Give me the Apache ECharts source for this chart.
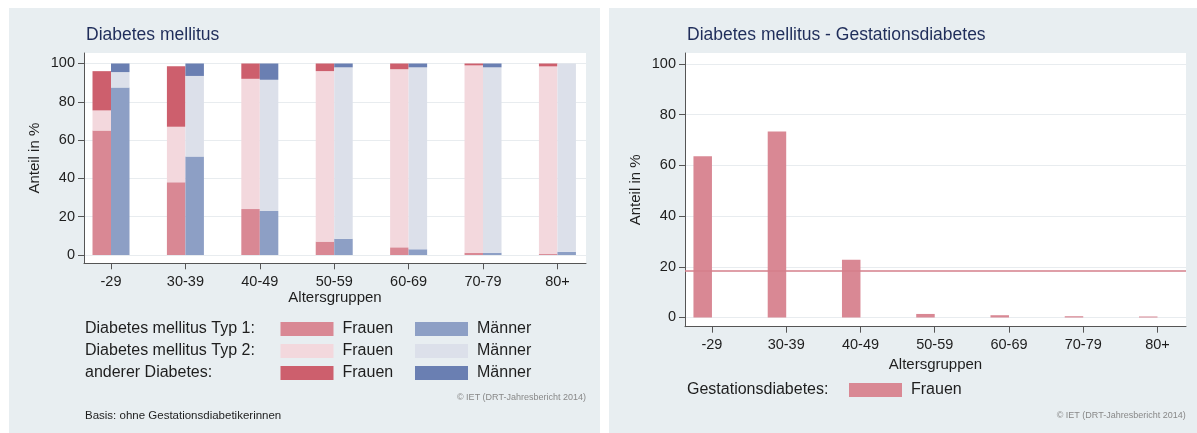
<!DOCTYPE html>
<html>
<head>
<meta charset="utf-8">
<script src="https://cdn.jsdelivr.net/npm/echarts@6/dist/echarts.min.js"></script>
<style>
html, body { margin: 0; padding: 0; background: #fff; }
#wrap { position: relative; width: 1197px; height: 433px; }
.panel { position: absolute; background: #e8eef1; }
#main { position: absolute; left: 0; top: 0; width: 1197px; height: 433px; }
</style>
</head>
<body>
<div id="wrap">
  <div class="panel" style="left:9px;top:8px;width:591px;height:425px"></div>
  <div class="panel" style="left:609px;top:8px;width:588px;height:425px"></div>
  <div id="main"></div>
</div>
<script>
// age groups
var categories = ['-29', '30-39', '40-49', '50-59', '60-69', '70-79', '80+'];
var yTicks = [0, 20, 40, 60, 80, 100];

// left chart: share in % (stacked per sex)
var typ1Frauen = [65, 38, 24, 7, 4, 1.2, 0.5];
var typ2Frauen = [10.5, 29, 68, 89, 93, 97.8, 98];
var andererFrauen = [20.5, 31.5, 8, 4, 3, 1, 1.5];
var typ1Maenner = [87.5, 51.5, 23, 8.5, 3, 1.2, 1.7];
var typ2Maenner = [8, 42, 68.5, 89.5, 95, 96.8, 98.3];
var andererMaenner = [4.5, 6.5, 8.5, 2, 2, 2, 0];

// right chart
var gestFrauen = [63.6, 73.4, 22.8, 1.4, 0.9, 0.5, 0.4];
var gestMittel = 18.5;

var FONT = '"Liberation Sans", Arial, sans-serif';
var TXT = '#1e1e1e';
var catIdx = categories.map(function (c, i) { return i; });

function xAxisFor(g) {
  return {
    type: 'value', gridIndex: g, min: -0.363, max: 6.384,
    name: 'Altersgruppen', nameLocation: 'middle', nameGap: 27,
    nameTextStyle: { fontFamily: FONT, fontSize: 15, color: TXT },
    axisLine: { show: true, onZero: false, lineStyle: { color: '#555', width: 1 } },
    axisTick: { show: true, length: 6, customValues: catIdx, lineStyle: { color: '#555' } },
    axisLabel: {
      customValues: catIdx, margin: 11, fontFamily: FONT, fontSize: 14.5, color: TXT,
      formatter: function (v) { return categories[v]; }
    },
    splitLine: { show: false }
  };
}

function yAxisFor(g, min, max) {
  return {
    type: 'value', gridIndex: g, min: min, max: max,
    name: 'Anteil in %', nameLocation: 'middle', nameGap: 42, nameRotate: 90,
    nameTextStyle: { fontFamily: FONT, fontSize: 15, color: TXT },
    axisLine: { show: true, onZero: false, lineStyle: { color: '#555', width: 1 } },
    axisTick: { show: true, length: 6, customValues: yTicks, lineStyle: { color: '#555' } },
    axisLabel: { customValues: yTicks, margin: 9, fontFamily: FONT, fontSize: 14.5, color: TXT },
    splitLine: { show: true, lineStyle: { color: '#e8ecef', width: 1 } }
  };
}

// value first, group index second, so the stack runs on the value dimension
function bars(name, vals, stack, color, g) {
  return {
    type: 'bar', name: name, stack: stack, xAxisIndex: g, yAxisIndex: g,
    barWidth: 18.5, barGap: '0%', silent: true,
    encode: { x: 1, y: 0 },
    data: vals.map(function (v, i) { return [v, i]; }),
    itemStyle: { color: color }
  };
}

var series = [
  bars('Typ 1 Frauen', typ1Frauen, 'f', '#d98894', 0),
  bars('Typ 2 Frauen', typ2Frauen, 'f', '#f3d8dd', 0),
  bars('anderer Frauen', andererFrauen, 'f', '#cd5f6d', 0),
  bars('Typ 1 Männer', typ1Maenner, 'm', '#8d9fc5', 0),
  bars('Typ 2 Männer', typ2Maenner, 'm', '#dce0ea', 0),
  bars('anderer Männer', andererMaenner, 'm', '#6a7fb2', 0)
];
var gest = bars('Gestation Frauen', gestFrauen, 'gf', '#d98894', 1);
gest.markLine = {
  silent: true, symbol: 'none', label: { show: false },
  lineStyle: { color: '#d47f8b', width: 1.5, type: 'solid' },
  data: [{ yAxis: gestMittel }]
};
series.push(gest);
series.push({ type: 'bar', name: 'Gestation Männer', stack: 'gm', xAxisIndex: 1, yAxisIndex: 1,
  barWidth: 18.5, barGap: '0%', data: [] });

var legendItems = [
  { name: 'Typ 1 Frauen', left: 280.5, row: 329 },
  { name: 'Typ 1 Männer', left: 415, row: 329 },
  { name: 'Typ 2 Frauen', left: 280.5, row: 351 },
  { name: 'Typ 2 Männer', left: 415, row: 351 },
  { name: 'anderer Frauen', left: 280.5, row: 373 },
  { name: 'anderer Männer', left: 415, row: 373 },
  { name: 'Gestation Frauen', left: 849, row: 390 }
];

function txt(text, left, cy, size, color) {
  var t = {
    text: text, top: cy - size / 2, padding: 0,
    textStyle: { fontFamily: FONT, fontSize: size, fontWeight: 'normal', color: color, lineHeight: size }
  };
  if (left < 0) t.right = -left; else t.left = left;
  return t;
}

var option = {
  animation: false,
  title: [
    txt('Diabetes mellitus', 86, 35, 17.5, '#1f2d5a'),
    txt('Diabetes mellitus - Gestationsdiabetes', 687, 35, 17.5, '#1f2d5a'),
    txt('Diabetes mellitus Typ 1:', 85, 329, 16, TXT),
    txt('Diabetes mellitus Typ 2:', 85, 351, 16, TXT),
    txt('anderer Diabetes:', 85, 373, 16, TXT),
    txt('Gestationsdiabetes:', 687, 390, 16, TXT),
    txt('\u00a9 IET (DRT-Jahresbericht 2014)', -611, 398, 9, '#888'),
    txt('\u00a9 IET (DRT-Jahresbericht 2014)', -11.3, 415.7, 9, '#888'),
    txt('Basis: ohne Gestationsdiabetikerinnen', 85, 415.7, 11.5, TXT)
  ],
  legend: legendItems.map(function (it) {
    return {
      data: [it.name], left: it.left, top: it.row - 8, padding: 0,
      itemWidth: 53, itemHeight: 14, icon: 'rect', selectedMode: false,
      formatter: function (n) { return n.indexOf('Frauen') >= 0 ? 'Frauen' : 'Männer'; },
      textStyle: { fontFamily: FONT, fontSize: 16, color: TXT, lineHeight: 16, padding: [0, 0, 0, 4] }
    };
  }),
  grid: [
    { left: 84, top: 53, width: 502, height: 210.3, show: true, backgroundColor: '#fff', borderWidth: 0, outerBoundsMode: 'none' },
    { left: 685, top: 53, width: 501, height: 273.7, show: true, backgroundColor: '#fff', borderWidth: 0, outerBoundsMode: 'none' }
  ],
  xAxis: [xAxisFor(0), xAxisFor(1)],
  yAxis: [yAxisFor(0, -4.33, 105.48), yAxisFor(1, -3.63, 104.34)],
  series: series
};

var chart = echarts.init(document.getElementById('main'));
chart.setOption(option);
</script>
</body>
</html>
